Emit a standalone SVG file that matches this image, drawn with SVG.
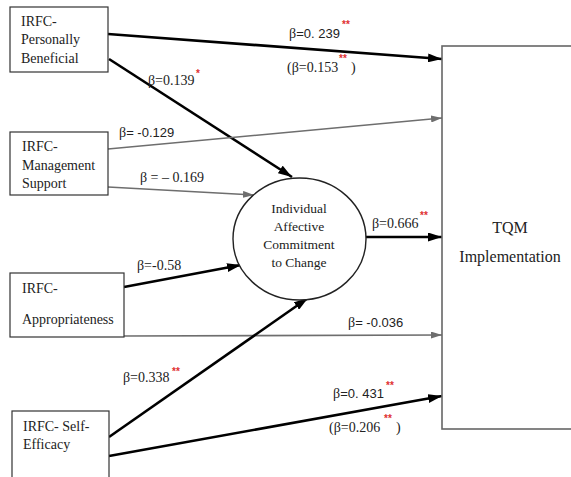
<svg xmlns="http://www.w3.org/2000/svg" width="571" height="477" viewBox="0 0 571 477">
<style>
.box{fill:#fff;stroke:#333;stroke-width:1.2}
.tqm{fill:#fff;stroke:#666;stroke-width:1.6}
.t{font-family:"Liberation Serif",serif;font-size:14px;fill:#222}
.ct{font-family:"Liberation Serif",serif;font-size:13.5px;fill:#222;text-anchor:middle}
.big{font-family:"Liberation Serif",serif;font-size:16px;fill:#222;text-anchor:middle}
.lb{font-family:"Liberation Serif",serif;font-size:14px;fill:#222}
.sn{font-family:"Liberation Sans",sans-serif;font-size:13px}
.st{font-family:"Liberation Sans",sans-serif;font-size:10px;font-weight:bold;fill:#e03030}
.blk{stroke:#000;stroke-width:2.6;fill:none;marker-end:url(#ab)}
.gry{stroke:#6e6e6e;stroke-width:1.6;fill:none;marker-end:url(#ag)}
</style>
<defs>
<marker id="ab" markerUnits="userSpaceOnUse" markerWidth="14" markerHeight="9" refX="14" refY="4.5" orient="auto"><path d="M0,0 L14,4.5 L0,9 z" fill="#000"/></marker>
<marker id="ag" markerUnits="userSpaceOnUse" markerWidth="11" markerHeight="7" refX="11" refY="3.5" orient="auto"><path d="M0,0 L11,3.5 L0,7 z" fill="#6e6e6e"/></marker>
</defs>
<rect width="571" height="477" fill="#fff"/>
<g id="connectors">
<line class="blk" x1="108" y1="34" x2="442" y2="59"/>
<line class="blk" x1="109" y1="59" x2="292" y2="177"/>
<line class="gry" x1="108" y1="149" x2="442" y2="118"/>
<line class="gry" x1="108" y1="187" x2="254" y2="195"/>
<line class="blk" x1="124" y1="287" x2="241" y2="265"/>
<line class="gry" x1="124" y1="336" x2="442" y2="335"/>
<line class="blk" x1="109" y1="437" x2="308" y2="298"/>
<line class="blk" x1="109" y1="456" x2="442" y2="396"/>
<line class="blk" x1="366" y1="237" x2="442" y2="237"/>
</g>
<g id="labels">
<text class="lb" x="289" y="38">β<tspan class="sn">=0. 239</tspan></text>
<text class="st" x="342" y="28">**</text>
<text class="lb" x="287" y="72">(β=0.153</text>
<text class="st" x="339" y="62">**</text>
<text class="lb" x="351" y="72">)</text>
<text class="lb" x="148" y="85">β=0.139</text>
<text class="st" x="196" y="77">*</text>
<text class="lb" x="119" y="137">β<tspan class="sn">= -0.129</tspan></text>
<text class="lb" x="140" y="182">β = – 0.169</text>
<text class="lb" x="137" y="270">β=-0.58</text>
<text class="lb" x="348" y="327">β<tspan class="sn">= -0.036</tspan></text>
<text class="lb" x="123" y="382">β=0.338</text>
<text class="st" x="172" y="375">**</text>
<text class="lb" x="333" y="398">β<tspan class="sn">=0. 431</tspan></text>
<text class="st" x="386" y="389">**</text>
<text class="lb" x="329" y="432">(β=0.206</text>
<text class="st" x="384" y="422">**</text>
<text class="lb" x="396" y="432">)</text>
<text class="lb" x="372" y="228">β=0.666</text>
<text class="st" x="420" y="219">**</text>
</g>
<g id="n-pb">
<rect class="box" x="10" y="7" width="98" height="65"/>
<text class="t" x="21" y="26">IRFC-</text>
<text class="t" x="21" y="44">Personally</text>
<text class="t" x="21" y="63">Beneficial</text>
</g>
<g id="n-ms">
<rect class="box" x="10" y="132" width="98" height="63"/>
<text class="t" x="22" y="151">IRFC-</text>
<text class="t" x="22" y="170">Management</text>
<text class="t" x="22" y="188">Support</text>
</g>
<g id="n-app">
<rect class="box" x="10" y="273" width="114" height="64"/>
<text class="t" x="22" y="293">IRFC-</text>
<text class="t" x="22" y="324">Appropriateness</text>
</g>
<g id="n-se">
<rect class="box" x="12" y="411" width="97" height="80"/>
<text class="t" x="23" y="431">IRFC- Self-</text>
<text class="t" x="23" y="449">Efficacy</text>
</g>
<g id="n-iac">
<ellipse cx="299.5" cy="239" rx="66.5" ry="61" fill="#fff" stroke="#222" stroke-width="1.4"/>
<text class="ct" x="299" y="213">Individual</text>
<text class="ct" x="299" y="231">Affective</text>
<text class="ct" x="299" y="249">Commitment</text>
<text class="ct" x="299" y="267">to Change</text>
</g>
<g id="n-tqm">
<rect class="tqm" x="442" y="46" width="140" height="383"/>
<text class="big" x="510" y="233">TQM</text>
<text class="big" x="510" y="262">Implementation</text>
</g>
</svg>
